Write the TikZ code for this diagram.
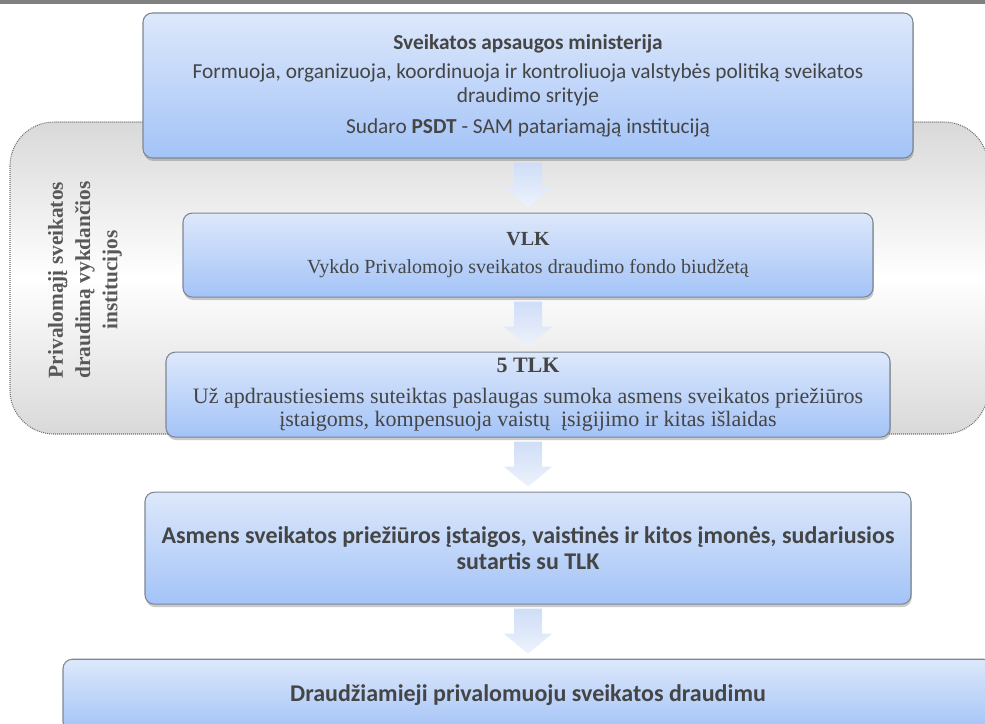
\documentclass[tikz,border=0pt]{standalone}
\usepackage{fontspec}
\setmainfont{Liberation Serif}
\newfontfamily\calfont{Carlito}
\usepackage{tikz}
\usetikzlibrary{positioning,shadows,calc}
\definecolor{boxtop}{HTML}{DDE8FB}
\definecolor{boxbot}{HTML}{A3C3F7}
\definecolor{boxline}{HTML}{7D8793}
\definecolor{arrtop}{HTML}{CFDDF7}
\definecolor{arrbot}{HTML}{EEF3FC}
\definecolor{inkg}{HTML}{454545}
\definecolor{zonec}{HTML}{D9D9D9}
\definecolor{zoneln}{HTML}{6E6E6E}
\definecolor{rulec}{HTML}{808080}
\tikzset{
  box/.style={rectangle, rounded corners=7pt, draw=boxline, line width=0.8pt,
              top color=boxtop, bottom color=boxbot, align=center, text=inkg, inner sep=4pt,
              drop shadow={shadow xshift=0.6pt, shadow yshift=-2.2pt, opacity=0.35, fill=black!60}},
  boxsans/.style={box, font=\calfont\fontsize{16}{18}\selectfont},
  boxserif/.style={box, font=\fontsize{15}{17.5}\selectfont},
  boxbold/.style={box, font=\calfont\bfseries\fontsize{18}{20}\selectfont},
  blockarr/.style={top color=arrtop, bottom color=arrbot, draw=none},
  zone/.style={draw=zoneln, line width=0.8pt, dash pattern=on 0.7pt off 0.8pt,
               rounded corners=33pt, top color=zonec, bottom color=zonec, middle color=white},
  zonelbl/.style={font=\bfseries\fontsize{16}{20.5}\selectfont, text=inkg!90, align=center, rotate=90},
}
% fat down arrow between two boxes (offsets in px)
\newcommand{\fatarrow}[2]{%
  \path[blockarr] ([yshift=-3pt]#1.south) ++(-14,0) -- ++(28,0)
    |- ([shift={(14,25)}]#2.north) -- ++(10,0) -- ([yshift=3.75pt]#2.north)
    -- ++(-24,20) -- ++(10,0) -- cycle;}
\begin{document}
\begin{tikzpicture}[x=0.75pt, y=0.75pt, node distance=40.5pt]
  \useasboundingbox (0,0) rectangle (985,-724);
  \begin{scope}
  \clip (0,0) rectangle (985,-724);
  % header rule and shaded zone
  \fill[rulec] (0,0) rectangle (985,-4);
  \path[zone] (10,-122) rectangle (988,-434);
  \node[zonelbl] (zlbl) at (85,-280) {Privalomąjį sveikatos\\ draudimą vykdančios\\ institucijos};
  % boxes
  \node[boxsans, minimum width=577.5pt, minimum height=108.75pt] (sam) at (528,-85.5)
    {\textbf{Sveikatos apsaugos ministerija}\\[4pt]
     Formuoja, organizuoja, koordinuoja ir kontroliuoja valstybės politiką sveikatos\\
     draudimo srityje\\[5pt]
     Sudaro \textbf{PSDT} - SAM patariamąją instituciją};
  \node[boxserif, minimum width=517.5pt, minimum height=63pt, below=of sam] (vlk)
    {\textbf{VLK}\\[3pt] Vykdo Privalomojo sveikatos draudimo fondo biudžetą};
  \node[boxserif, font=\fontsize{16.5}{17.5}\selectfont, minimum width=543pt, minimum height=63.75pt,
        below=of vlk] (tlk)
    {\textbf{5 TLK}\\[6pt] Už apdraustiesiems suteiktas paslaugas sumoka asmens sveikatos priežiūros\\
     įstaigoms, kompensuoja vaistų\ \ įsigijimo ir kitas išlaidas};
  \node[boxbold, minimum width=574.5pt, minimum height=84pt, below=of tlk] (aspi)
    {Asmens sveikatos priežiūros įstaigos, vaistinės ir kitos įmonės, sudariusios\\ sutartis su TLK};
  \node[boxbold, minimum width=697.5pt, minimum height=54pt, below=of aspi] (drau)
    {Draudžiamieji privalomuoju sveikatos draudimu};
  % block arrows
  \fatarrow{sam}{vlk}
  \fatarrow{vlk}{tlk}
  \fatarrow{tlk}{aspi}
  \fatarrow{aspi}{drau}
  \end{scope}
\end{tikzpicture}
\end{document}
